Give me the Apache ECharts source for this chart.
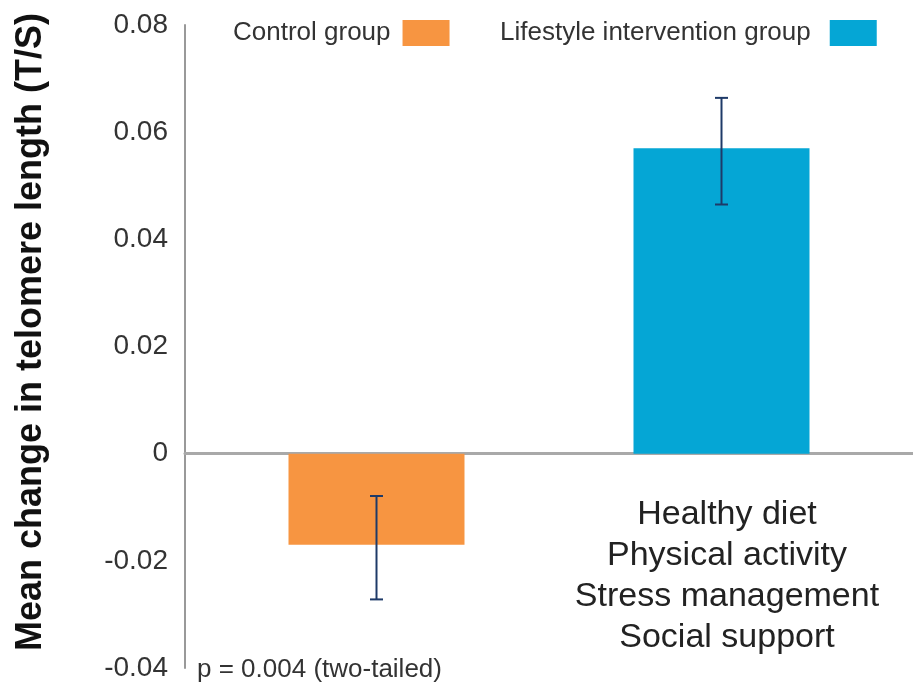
<!DOCTYPE html>
<html>
<head>
<meta charset="utf-8">
<script src="https://cdn.jsdelivr.net/npm/echarts@6/dist/echarts.min.js"></script>
<style>
html,body{margin:0;padding:0;background:#fff;}
#c{width:913px;height:692px;}
</style>
</head>
<body>
<div id="c"></div>
<script>
// ---- data ----
const groups = ['Control group', 'Lifestyle intervention group'];
const means = [-0.017, 0.057];
const errLow = [-0.0272, 0.0465];
const errHigh = [-0.0079, 0.0664];
const yTicks = { min: -0.04, max: 0.08, interval: 0.02 };
const yTitle = 'Mean change in telomere length (T/S)';
const interventionItems = ['Healthy diet', 'Physical activity', 'Stress management', 'Social support'];
const pNote = 'p = 0.004 (two-tailed)';

// ---- style ----
const COLORS = ['#F79541', '#05A6D5'];
const BAR_W = 176;
const GAP_PX = 169;
const OFFSET = (BAR_W + GAP_PX) / 2;
const FONT = '"Liberation Sans", Arial, Helvetica, sans-serif';

const chart = echarts.init(document.getElementById('c'), null, { renderer: 'canvas' });

const barSeries = groups.map((g, i) => ({
  name: g,
  type: 'bar',
  data: [means[i]],
  barWidth: BAR_W,
  barGap: (GAP_PX / BAR_W * 100) + '%',
  itemStyle: { color: COLORS[i] },
  z: 2
}));

const errData = groups.map((g, i) => [0, errLow[i], errHigh[i], i === 0 ? -1 : 1]);

const errSeries = {
  type: 'custom',
  name: 'err',
  data: errData,
  z: 5,
  renderItem: function (params, api) {
    const lo = api.coord([api.value(0), api.value(1)]);
    const hi = api.coord([api.value(0), api.value(2)]);
    const x = lo[0] + api.value(3) * OFFSET;
    const cap = 6.5;
    const st = { stroke: '#1E3A68', lineWidth: 2 };
    return {
      type: 'group',
      children: [
        { type: 'line', shape: { x1: x, y1: lo[1], x2: x, y2: hi[1] }, style: st },
        { type: 'line', shape: { x1: x - cap, y1: lo[1], x2: x + cap, y2: lo[1] }, style: st },
        { type: 'line', shape: { x1: x - cap, y1: hi[1], x2: x + cap, y2: hi[1] }, style: st }
      ]
    };
  }
};

function legendFor(name, left, gapRight) {
  return {
    top: 15,
    left: left,
    align: 'right',
    itemWidth: 47,
    itemHeight: 26,
    icon: 'rect',
    selectedMode: false,
    data: [name],
    textStyle: { fontFamily: FONT, fontSize: 26, color: '#333', padding: [3, gapRight, 0, 0] }
  };
}

chart.setOption({
  animation: false,
  backgroundColor: '#fff',
  textStyle: { fontFamily: FONT },
  legend: [
    legendFor(groups[0], 228, 7),
    legendFor(groups[1], 495, 14)
  ],
  grid: { left: 185, right: 0, top: 25, bottom: 24, containLabel: false },
  xAxis: {
    type: 'category',
    data: [''],
    axisLine: { show: true, onZero: true, lineStyle: { color: '#A9A9A9', width: 3 } },
    axisTick: { show: false },
    axisLabel: { show: false },
    splitLine: { show: false }
  },
  yAxis: {
    type: 'value',
    min: yTicks.min,
    max: yTicks.max,
    interval: yTicks.interval,
    axisLine: { show: true, lineStyle: { color: '#999', width: 2 } },
    axisTick: { show: false },
    splitLine: { show: false },
    axisLabel: {
      margin: 17,
      fontSize: 28,
      color: '#333',
      fontFamily: FONT,
      formatter: v => (Math.abs(v) < 1e-9 ? '0' : v.toFixed(2))
    }
  },
  series: barSeries.concat([errSeries]),
  graphic: [
    {
      type: 'text',
      x: 31, y: 332,
      rotation: Math.PI / 2,
      style: {
        text: yTitle,
        fontFamily: FONT, fontWeight: 'bold', fontSize: 36,
        fill: '#111', textAlign: 'center', textVerticalAlign: 'middle'
      }
    },
    {
      type: 'text',
      x: 727, y: 494,
      style: {
        text: interventionItems.join('\n'),
        fontFamily: FONT, fontSize: 34, lineHeight: 41,
        fill: '#222', textAlign: 'center', textVerticalAlign: 'top'
      }
    },
    {
      type: 'text',
      x: 197, y: 670,
      style: {
        text: pNote,
        fontFamily: FONT, fontSize: 26,
        fill: '#333', textAlign: 'left', textVerticalAlign: 'middle'
      }
    }
  ]
});
</script>
</body>
</html>
